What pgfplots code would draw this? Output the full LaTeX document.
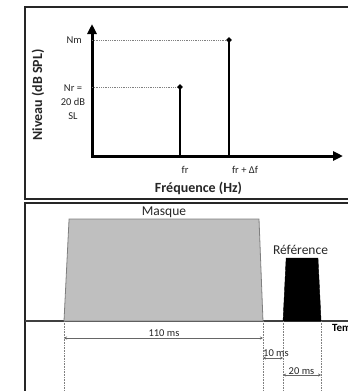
\documentclass[border=0pt]{standalone}
\usepackage{pgfplots}
\pgfplotsset{compat=1.18}
\usetikzlibrary{arrows.meta}
\usepackage{fontspec}
\setmainfont{Carlito}
\definecolor{txt}{HTML}{262626}
\definecolor{maskfill}{HTML}{BFBFBF}
\definecolor{maskline}{HTML}{7F7F7F}
\newcommand{\fs}[1]{\fontsize{#1}{#1}\selectfont}
\begin{document}
\begin{tikzpicture}
\path[use as bounding box] (0,0) rectangle (348pt,-391pt);
\clip (0,0) rectangle (348pt,-391pt);
% frames
\begin{scope}[x=1pt,y=-1pt]
\draw[line width=1.4pt, black!85] (25,7) rectangle (360,199);
\draw[line width=1.4pt, black!85] (25,203) rectangle (360,400);
\end{scope}
% ---------- top panel ----------
\begin{axis}[at={(92pt,-156pt)}, anchor=south west, scale only axis,
  width=251pt, height=132pt, xmin=0, xmax=251, ymin=0, ymax=132,
  axis lines=left,
  axis line style={line width=3pt, line cap=rect, -{Triangle[length=10pt,width=9pt]}},
  xtick=\empty, ytick=\empty, clip=false]
\addplot[gray, densely dotted, line width=0.8pt] coordinates {(0,69) (88,69)};
\addplot[gray, densely dotted, line width=0.8pt] coordinates {(0,116) (137,116)};
\addplot[ycomb, black, line width=2pt, mark=*, mark size=1.5pt] coordinates {(88,69) (137,116)};
\end{axis}
% ---------- bottom panel ----------
\begin{axis}[at={(25pt,-391pt)}, anchor=south west, scale only axis,
  width=323pt, height=189pt, xmin=-21.56, xmax=157.0, ymin=-70, ymax=119,
  axis lines=none, clip=false]
\addplot[draw=black!75, line width=1.5pt] coordinates {(-21.56,0) (170,0)};
\addplot[fill=maskfill, draw=maskline, line width=0.8pt] coordinates {(0,0) (2.8,102) (107.8,102) (110,0)} \closedcycle;
\addplot[fill=black, draw=black] coordinates {(121.1,0) (122.8,63) (140.4,63) (142.1,0)} \closedcycle;
\addplot[gray, densely dotted, line width=0.6pt] coordinates {(0,0) (0,-75)};
\addplot[gray, densely dotted, line width=0.6pt] coordinates {(110,0) (110,-75)};
\addplot[gray, densely dotted, line width=0.6pt] coordinates {(121.1,0) (121.1,-75)};
\addplot[gray, densely dotted, line width=0.6pt] coordinates {(142.1,0) (142.1,-75)};
\draw[{Stealth[length=3pt,width=3pt]}-{Stealth[length=3pt,width=3pt]}, black!60, line width=0.7pt] (axis cs:0,-17) -- (axis cs:110,-17);
\draw[{Stealth[length=3pt,width=3pt]}-{Stealth[length=3pt,width=3pt]}, black!60, line width=0.7pt] (axis cs:110,-37) -- (axis cs:121.1,-37);
\draw[{Stealth[length=3pt,width=3pt]}-{Stealth[length=3pt,width=3pt]}, black!60, line width=0.7pt] (axis cs:121.1,-54) -- (axis cs:142.1,-54);
\end{axis}
% ---------- labels ----------
\begin{scope}[x=1pt,y=-1pt, every node/.style={inner sep=0pt, text=txt}]
\node[anchor=base east, font=\fs{10.5}] at (82,43.5) {Nm};
\node[anchor=base, font=\fs{10.5}] at (73,91.5) {Nr =};
\node[anchor=base, font=\fs{10.5}] at (73,105.5) {20 dB};
\node[anchor=base, font=\fs{10.5}] at (73,119.5) {SL};
\node[anchor=base, font=\fs{10.5}] at (185,173) {fr};
\node[anchor=base, font=\fs{10.5}] at (245,173) {fr + Δf};
\node[anchor=base, font=\bfseries\fs{14}] at (198.5,192.5) {Fréquence (Hz)};
\node[rotate=90, font=\bfseries\fs{14}] at (38,95) {Niveau (dB SPL)};
\node[anchor=base, font=\fs{13.5}] at (164,215) {Masque};
\node[anchor=base, font=\fs{13.5}] at (300.5,254.5) {Référence};
\node[anchor=base, font=\fs{10.5}] at (164,336.5) {110 ms};
\node[anchor=base west, font=\fs{10.5}] at (263,356) {10 ms};
\node[anchor=base, font=\fs{10.5}] at (301.5,374) {20 ms};
\node[anchor=base west, font=\bfseries\fs{11}, text=black] at (332,331) {Temps (ms)};
\end{scope}
\end{tikzpicture}
\end{document}
